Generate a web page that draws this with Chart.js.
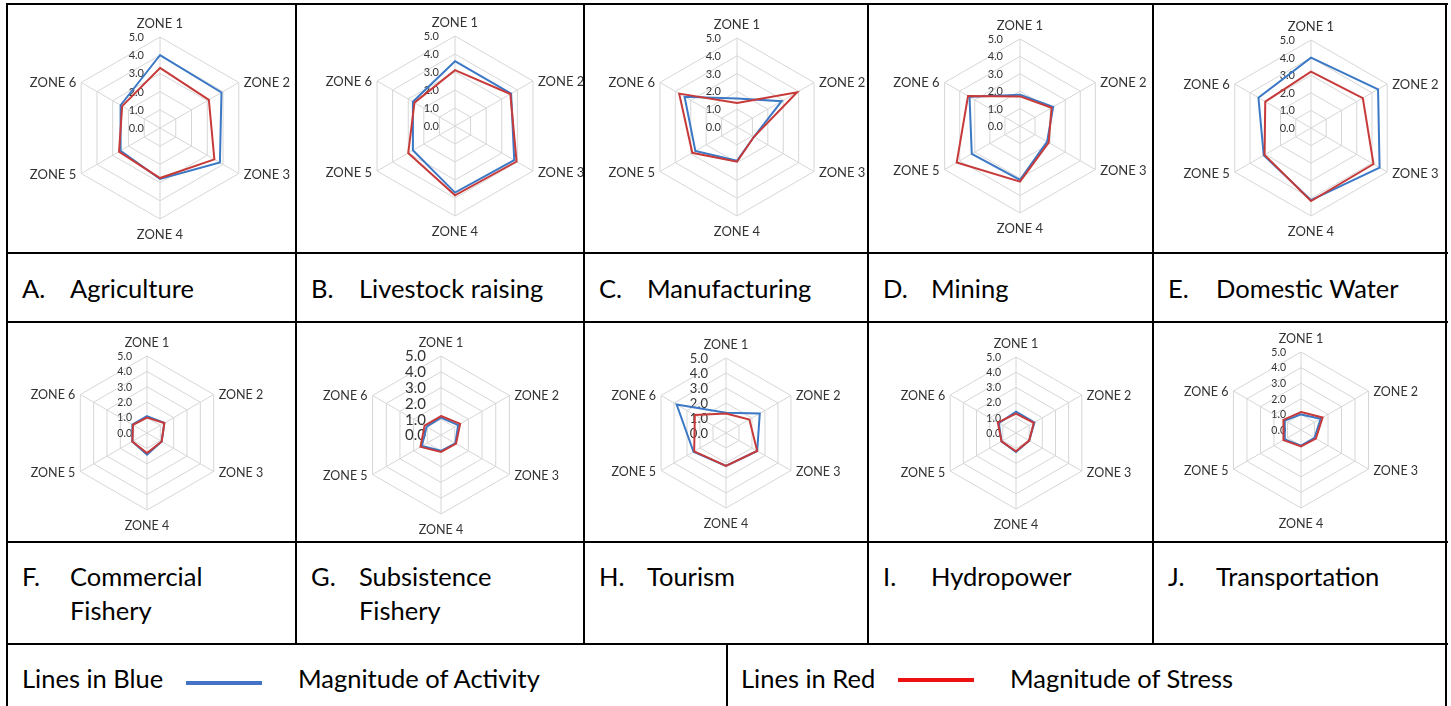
<!DOCTYPE html>
<html><head><meta charset="utf-8">
<script src="https://cdn.jsdelivr.net/npm/chart.js@4.4.1/dist/chart.umd.min.js"></script>
<style>
html,body{margin:0;padding:0;background:#fff;width:1451px;height:706px;overflow:hidden;font-family:Lato,sans-serif;}
#page{position:relative;width:1451px;height:706px;}
.ln{position:absolute;background:#000;}
canvas{position:absolute;}
.t{position:absolute;font-size:25.5px;line-height:34px;color:#000;white-space:nowrap;}
.key{position:absolute;height:4px;}
</style></head><body><div id="page"></div>
<script>
// ---------- data ----------
const zones = ['ZONE 1','ZONE 2','ZONE 3','ZONE 4','ZONE 5','ZONE 6'];
const tickLabels = ['0.0','1.0','2.0','3.0','4.0','5.0'];
const panelLetters = ['A.','B.','C.','D.','E.','F.','G.','H.','I.','J.'];
const panelTitles = [['Agriculture'],['Livestock raising'],['Manufacturing'],['Mining'],['Domestic Water'],
  ['Commercial','Fishery'],['Subsistence','Fishery'],['Tourism'],['Hydropower'],['Transportation']];

// Magnitude of Activity (blue)
const actAgriculture   = [4.0, 3.9, 3.8, 2.8, 2.5, 2.5];
const actLivestock     = [3.6, 3.6, 3.8, 3.7, 2.7, 2.7];
const actManufacturing = [1.6, 2.9, 1.1, 1.9, 2.7, 3.4];
const actMining        = [1.8, 2.2, 1.8, 3.1, 3.2, 3.35];
const actDomestic      = [4.0, 4.4, 4.5, 4.1, 3.1, 3.45];
const actCommFishery   = [1.1, 1.3, 1.1, 1.4, 1.1, 1.1];
const actSubsFishery   = [1.1, 1.25, 1.05, 1.0, 1.4, 1.05];
const actTourism       = [1.35, 2.6, 2.4, 2.2, 2.5, 3.8];
const actHydropower    = [1.4, 1.4, 1.0, 1.25, 1.1, 1.3];
const actTransport     = [1.0, 1.45, 1.0, 1.0, 1.2, 1.2];

// Magnitude of Stress (red)
const strAgriculture   = [3.3, 3.1, 3.45, 2.75, 2.6, 2.4];
const strLivestock     = [3.1, 3.55, 3.95, 3.85, 3.0, 2.6];
const strManufacturing = [1.35, 3.9, 1.1, 1.95, 2.9, 3.75];
const strMining        = [1.7, 2.1, 1.9, 3.2, 4.2, 3.45];
const strDomestic      = [3.2, 3.4, 4.1, 4.15, 3.05, 3.0];
const strCommFishery   = [1.0, 1.3, 1.1, 1.3, 1.1, 1.05];
const strSubsFishery   = [1.2, 1.4, 1.1, 1.07, 1.5, 1.2];
const strTourism       = [1.3, 1.8, 2.4, 2.2, 2.45, 2.4];
const strHydropower    = [1.27, 1.35, 1.0, 1.2, 1.1, 1.38];
const strTransport     = [1.15, 1.6, 1.1, 1.05, 1.3, 1.3];

const legendKeys  = ['Lines in Blue','Lines in Red'];
const legendNames = ['Magnitude of Activity','Magnitude of Stress'];

const activity = [actAgriculture,actLivestock,actManufacturing,actMining,actDomestic,
  actCommFishery,actSubsFishery,actTourism,actHydropower,actTransport];
const stress = [strAgriculture,strLivestock,strManufacturing,strMining,strDomestic,
  strCommFishery,strSubsFishery,strTourism,strHydropower,strTransport];

// ---------- layout (positions / styles) ----------
const colX = [7, 296, 584, 868, 1153, 1446];
const rowChartY = [[4, 253], [322, 542]];
const geom = [
  {cx:160.7, cy:128.3, r:91,   lf:13,   tf:11, to:16},
  {cx:455.7, cy:126.7, r:90.7, lf:13,   tf:11, to:16},
  {cx:737.7, cy:127.3, r:89,   lf:13,   tf:11, to:16},
  {cx:1020,  cy:126,   r:87.5, lf:13,   tf:11, to:17},
  {cx:1311.7,cy:128.3, r:88,   lf:13,   tf:11, to:16},
  {cx:147.7, cy:433.3, r:77,   lf:12.5, tf:10.5, to:15},
  {cx:441.7, cy:435,   r:79,   lf:12.5, tf:15, to:15},
  {cx:726.7, cy:433.3, r:75,   lf:12.5, tf:13, to:18},
  {cx:1016,  cy:433.3, r:76.5, lf:12.5, tf:10.5, to:15},
  {cx:1301,  cy:430.7, r:78,   lf:12.5, tf:10.5, to:15}
];
const BLUE = '#3B78C5', RED = '#C73A3A', GRID = '#d6d6d6', TXT = '#333333';

const page = document.getElementById('page');
function line(x, y, w, h) {
  const d = document.createElement('div'); d.className = 'ln';
  Object.assign(d.style, {left:x+'px', top:y+'px', width:w+'px', height:h+'px'});
  page.appendChild(d);
}
function text(str, x, y) {
  const d = document.createElement('div'); d.className = 't'; d.textContent = str;
  d.style.left = x + 'px'; d.style.top = y + 'px';
  page.appendChild(d);
}

const excelLabels = {
  id: 'excelLabels',
  beforeDatasetsDraw(chart, args, o) {
    const s = chart.scales.r, ctx = chart.ctx;
    ctx.save();
    ctx.font = o.tf + 'px Lato';
    ctx.fillStyle = TXT; ctx.textAlign = 'right'; ctx.textBaseline = 'alphabetic';
    const cap = o.tf * 0.72;
    tickLabels.forEach(lbl => {
      const d = s.getDistanceFromCenterForValue(parseFloat(lbl));
      ctx.fillText(lbl, s.xCenter - o.to, s.yCenter - d + cap / 2);
    });
    ctx.restore();
  },
  afterDraw(chart, args, o) {
    const s = chart.scales.r, ctx = chart.ctx;
    ctx.save();
    ctx.font = o.lf + 'px Lato';
    ctx.fillStyle = TXT; ctx.textBaseline = 'alphabetic';
    const cap = o.lf * 0.72;
    chart.data.labels.forEach((lbl, i) => {
      const p = s.getPointPosition(i, s.drawingArea);
      const a = s.getIndexAngle(i);
      const sn = Math.sin(a), cs = Math.cos(a);
      let x = p.x, y = p.y;
      if (sn > 0.1) { ctx.textAlign = 'left'; x += 5; y += cap / 2 + (cs < 0 ? 1 : 0); }
      else if (sn < -0.1) { ctx.textAlign = 'right'; x -= 5; y += cap / 2 + (cs < 0 ? 1 : 0); }
      else { ctx.textAlign = 'center'; y += cs > 0 ? -9 : 19.5; }
      ctx.fillText(lbl, x, y);
    });
    ctx.restore();
  }
};

Chart.defaults.font.family = 'Lato';

for (let k = 0; k < 10; k++) {
  const row = k < 5 ? 0 : 1, col = k % 5;
  const L = colX[col] + 1, R = colX[col + 1] - 1;
  const T = rowChartY[row][0] + 1, B = rowChartY[row][1] - 1;
  const W = R - L, H = B - T;
  const g = geom[k];
  const cv = document.createElement('canvas');
  cv.width = W; cv.height = H;
  cv.style.left = L + 'px'; cv.style.top = T + 'px';
  cv.style.width = W + 'px'; cv.style.height = H + 'px';
  page.appendChild(cv);
  const pl = g.cx - L - g.r, pt = g.cy - T - g.r;
  new Chart(cv, {
    type: 'radar',
    data: {
      labels: zones,
      datasets: [
        {label: legendNames[0], data: activity[k], borderColor: BLUE, borderWidth: 2, pointRadius: 0, fill: false, order: 1},
        {label: legendNames[1], data: stress[k], borderColor: RED, borderWidth: 2, pointRadius: 0, fill: false, order: 0}
      ]
    },
    options: {
      responsive: false, animation: false, devicePixelRatio: 1,
      layout: {padding: {left: pl, top: pt, right: W - pl - 2 * g.r, bottom: H - pt - 2 * g.r}},
      plugins: {legend: {display: false}, tooltip: {enabled: false},
        excelLabels: {lf: g.lf, tf: g.tf, to: g.to}},
      elements: {line: {tension: 0}},
      scales: {r: {
        min: 0, max: 5, beginAtZero: true,
        ticks: {display: false, stepSize: 1},
        pointLabels: {display: false},
        grid: {color: GRID, lineWidth: 1},
        angleLines: {color: GRID, lineWidth: 1}
      }}
    },
    plugins: [excelLabels]
  });
}

// label rows
for (let k = 0; k < 10; k++) {
  const row = k < 5 ? 0 : 1, col = k % 5;
  const top = row === 0 ? 271 : 559;
  text(panelLetters[k], colX[col] + 15, top);
  panelTitles[k].forEach((s, j) => text(s, colX[col] + 63, top + j * 34));
}

// legend row
text(legendKeys[0], 22, 661);
const kb = document.createElement('div'); kb.className = 'key';
Object.assign(kb.style, {left:'186px', top:'681px', width:'76px', background:'#4472C4'}); page.appendChild(kb);
text(legendNames[0], 298, 661);
text(legendKeys[1], 741, 661);
const kr = document.createElement('div'); kr.className = 'key';
Object.assign(kr.style, {left:'898px', top:'678px', width:'76px', background:'#EE1111'}); page.appendChild(kr);
text(legendNames[1], 1010, 661);

// table lines
[4, 253, 322, 542, 644].forEach(y => line(colX[0], y - 1, colX[5] - colX[0] + 2, 2));
line(colX[0] - 1, 3, 2, 706);
line(colX[5] - 1, 3, 2, 706);
for (let c = 1; c < 5; c++) line(colX[c] - 1, 3, 2, 642);
line(726, 643, 2, 70);
</script>
</body></html>
